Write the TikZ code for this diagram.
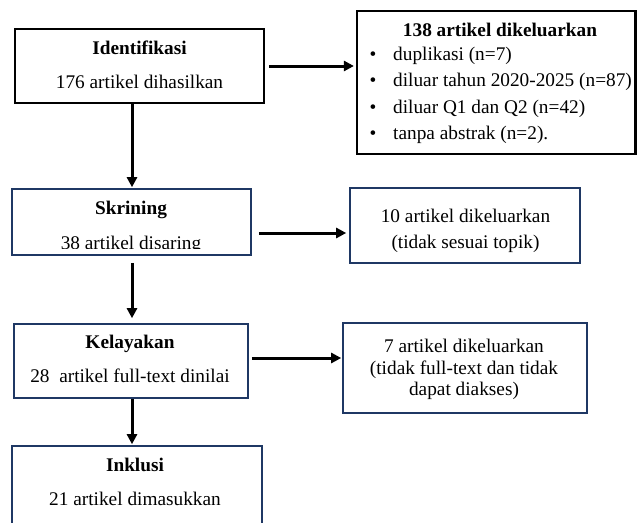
\documentclass[tikz,border=0pt]{standalone}
\usepackage{fontspec}
\setmainfont{Liberation Serif}
\usetikzlibrary{arrows.meta}
\definecolor{navy}{HTML}{1F3864}
\tikzset{
  blackbox/.style={draw=black, line width=2.2pt, fill=white, inner sep=0pt},
  navybox/.style={draw=navy, line width=1.6pt, fill=white, inner sep=0pt},
  txt/.style={inner sep=0pt, anchor=base, font=\fontsize{19.3}{22}\selectfont},
  btxt/.style={txt, font=\fontsize{19.3}{22}\selectfont\bfseries},
  ltxt/.style={txt, anchor=base west},
  arr/.style={line width=3pt, -{Triangle[length=10pt,width=10pt]}}
}
\begin{document}
\begin{tikzpicture}[x=1pt,y=-1pt]
\useasboundingbox (0,0) rectangle (637,522);
% boxes
\node[blackbox, minimum width=249pt, minimum height=74pt] (ident) at (139.5,66) {};
\node[blackbox, minimum width=278.5pt, minimum height=143pt] (excl1) at (496.25,82.5) {};
\node[navybox, minimum width=239pt, minimum height=66pt] (skr) at (131.5,222) {};
\node[navybox, minimum width=230pt, minimum height=75pt] (excl2) at (465,225.5) {};
\node[navybox, minimum width=234pt, minimum height=74pt] (kel) at (131,361) {};
\node[navybox, minimum width=244pt, minimum height=90pt] (excl3) at (465,368) {};
\node[navybox, minimum width=250pt, minimum height=94pt] (incl) at (137,493) {};
% texts
\node[btxt] (tIdent) at (139.5,54) {Identifikasi};
\node[txt] (tIdentN) at (139.5,88) {176 artikel dihasilkan};
\node[btxt] (tEx1) at (500,36) {138 artikel dikeluarkan};
\node[txt] (b1) at (373,60) {•};
\node[txt] (b2) at (373,86.5) {•};
\node[txt] (b3) at (373,113) {•};
\node[txt] (b4) at (373,139.5) {•};
\node[ltxt] (i1) at (393,60) {duplikasi (n=7)};
\node[ltxt] (i2) at (393,86.5) {diluar tahun 2020-2025 (n=87)};
\node[ltxt] (i3) at (393,113) {diluar Q1 dan Q2 (n=42)};
\node[ltxt] (i4) at (393,139.5) {tanpa abstrak (n=2).};
\node[btxt] (tSkr) at (131,214.5) {Skrining};
\begin{scope}
\clip (12,190) rectangle (251,248.4);
\node[txt] (tSkrN) at (131,249.5) {38 artikel disaring};
\end{scope}
\node[txt] (tEx2a) at (465.5,222.5) {10 artikel dikeluarkan};
\node[txt] (tEx2b) at (465.5,248) {(tidak sesuai topik)};
\node[btxt] (tKel) at (130,348) {Kelayakan};
\node[txt] (tKelN) at (130,382.5) {28\ \ artikel full-text dinilai};
\node[txt] (tEx3a) at (464,352.5) {7 artikel dikeluarkan};
\node[txt] (tEx3b) at (464,374) {(tidak full-text dan tidak};
\node[txt] (tEx3c) at (464,395.5) {dapat diakses)};
\node[btxt] (tIncl) at (135,471) {Inklusi};
\node[txt] (tInclN) at (135,505.5) {21 artikel dimasukkan};
% connectors
\coordinate (vx) at (132,0);
\coordinate (y1) at (0,66);
\coordinate (y3) at (0,233);
\coordinate (y5) at (0,358);
\draw[arr, shorten <=4pt, shorten >=2pt] (ident.east |- y1) -- (excl1.west |- y1);
\draw[arr, shorten >=1pt] (ident.south -| vx) -- (skr.north -| vx);
\draw[arr, shorten <=7pt, shorten >=3pt] (skr.east |- y3) -- (excl2.west |- y3);
\draw[arr, shorten <=7pt, shorten >=5pt] (skr.south -| vx) -- (kel.north -| vx);
\draw[arr, shorten <=3pt, shorten >=1pt] (kel.east |- y5) -- (excl3.west |- y5);
\draw[arr, shorten >=1pt] (kel.south -| vx) -- (incl.north -| vx);
\end{tikzpicture}
\end{document}
